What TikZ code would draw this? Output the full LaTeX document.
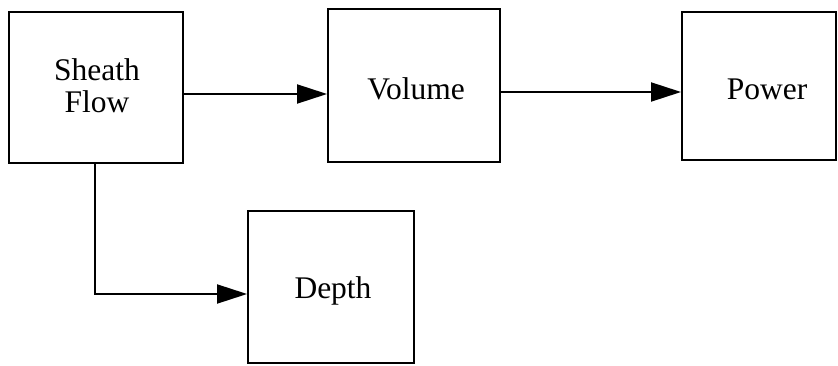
\documentclass[tikz,border=0pt]{standalone}
\usepackage{fontspec}
\setmainfont{Liberation Serif}
\usetikzlibrary{arrows.meta}
\begin{document}
\begin{tikzpicture}[x=1pt,y=1pt,
  box/.style={draw, line width=1.9pt, inner sep=0pt},
  lbl/.style={inner sep=0pt, align=center, font=\fontsize{31.5}{32}\selectfont},
  arr/.style={line width=1.9pt, -{Triangle[length=30pt,width=19pt]}}]
\useasboundingbox (0,0) rectangle (838,365);
\node[box, minimum width=174pt, minimum height=151pt] (sf) at (96,277.5) {};
\node[box, minimum width=172pt, minimum height=153pt] (vol) at (414,279.5) {};
\node[box, minimum width=154pt, minimum height=148pt] (pow) at (759,279) {};
\node[box, minimum width=166pt, minimum height=152pt] (dep) at (331,78) {};
\node[lbl] (sft) at (97,279) {Sheath\\Flow};
\node[lbl] (volt) at (416,276) {Volume};
\node[lbl] (powt) at (767,276) {Power};
\node[lbl] (dept) at (333,74) {Depth};
\draw[arr] (sf.east |- 0,271) -- (vol.west |- 0,271);
\draw[arr] (vol.east |- 0,273) -- (pow.west |- 0,273);
\draw[arr] (sf.south -| 95,0) |- (dep.west |- 0,71);
\end{tikzpicture}
\end{document}
